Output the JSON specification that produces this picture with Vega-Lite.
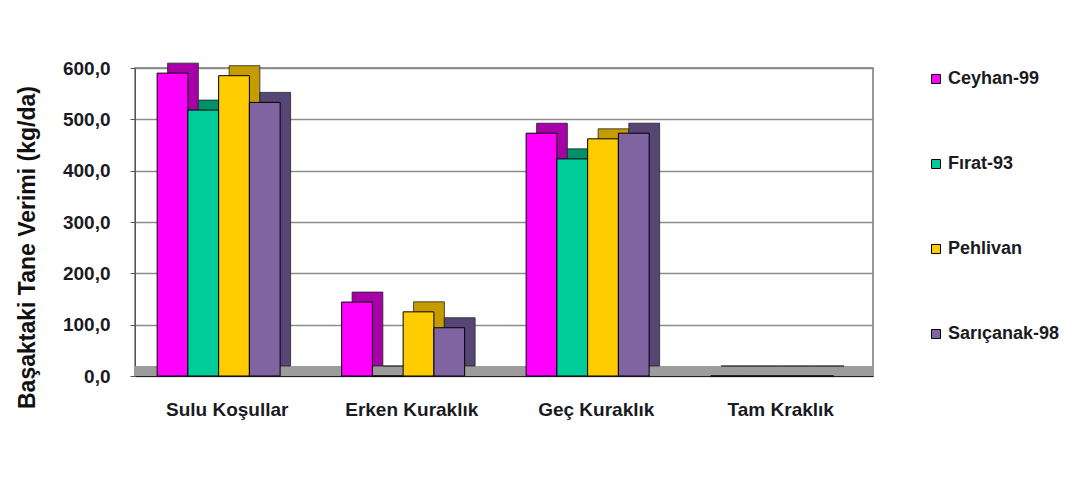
{
  "$schema": "https://vega.github.io/schema/vega-lite/v6.json",
  "width": 738,
  "height": 308,
  "autosize": {"type": "none"},
  "padding": {"left": 135, "top": 68, "right": 209, "bottom": 105},
  "background": "white",
  "config": {
    "font": "Liberation Sans",
    "view": {"stroke": "#777777", "strokeWidth": 1.5},
    "axisY": {
      "grid": true, "gridColor": "#8c8c8c", "gridWidth": 1.5,
      "domainColor": "#555555", "tickColor": "#555555", "tickSize": 5,
      "labelFont": "Liberation Sans", "labelFontSize": 19, "labelFontWeight": "bold", "labelColor": "#1a1a22",
      "labelPadding": 20,
      "titleFont": "Liberation Sans", "titleFontSize": 23, "titleFontWeight": "bold", "titleColor": "#111111",
      "titleAngle": -90, "titleX": -101, "titleY": 179, "titleAlign": "center", "titleBaseline": "alphabetic"
    },
    "axisX": {
      "grid": false, "ticks": false, "domainColor": "#222222", "domainWidth": 1.2,
      "labelFont": "Liberation Sans", "labelFontSize": 19, "labelFontWeight": "bold", "labelColor": "#1a1a22",
      "labelAngle": 0, "labelPadding": 24
    },
    "legend": {
      "orient": "none", "legendX": 792, "legendY": 2, "padding": 0,
      "symbolType": "square", "symbolSize": 81, "symbolStrokeColor": "#000000", "symbolStrokeWidth": 1,
      "labelFont": "Liberation Sans", "labelFontSize": 18, "labelFontWeight": "bold", "labelColor": "#1a1a22",
      "labelOffset": 3, "rowPadding": 67, "title": null
    }
  },
  "data": {
    "values": [
      {"kosul": "Sulu Koşullar", "cesit": "Ceyhan-99", "verim": 590},
      {"kosul": "Sulu Koşullar", "cesit": "Fırat-93", "verim": 518},
      {"kosul": "Sulu Koşullar", "cesit": "Pehlivan", "verim": 585},
      {"kosul": "Sulu Koşullar", "cesit": "Sarıçanak-98", "verim": 533},
      {"kosul": "Erken Kuraklık", "cesit": "Ceyhan-99", "verim": 144},
      {"kosul": "Erken Kuraklık", "cesit": "Fırat-93", "verim": 0},
      {"kosul": "Erken Kuraklık", "cesit": "Pehlivan", "verim": 125},
      {"kosul": "Erken Kuraklık", "cesit": "Sarıçanak-98", "verim": 94},
      {"kosul": "Geç Kuraklık", "cesit": "Ceyhan-99", "verim": 473},
      {"kosul": "Geç Kuraklık", "cesit": "Fırat-93", "verim": 423},
      {"kosul": "Geç Kuraklık", "cesit": "Pehlivan", "verim": 462},
      {"kosul": "Geç Kuraklık", "cesit": "Sarıçanak-98", "verim": 473},
      {"kosul": "Tam Kraklık", "cesit": "Ceyhan-99", "verim": 0},
      {"kosul": "Tam Kraklık", "cesit": "Fırat-93", "verim": 0},
      {"kosul": "Tam Kraklık", "cesit": "Pehlivan", "verim": 0},
      {"kosul": "Tam Kraklık", "cesit": "Sarıçanak-98", "verim": 0}
    ]
  },
  "layer": [
    {
      "mark": {"type": "rule", "color": "#9c9c9c", "strokeWidth": 9, "yOffset": -5},
      "encoding": {
        "y": {"datum": 0, "type": "quantitative", "scale": {"domain": [0, 600]},
              "axis": {"title": "Başaktaki Tane Verimi (kg/da)", "values": [0, 100, 200, 300, 400, 500, 600], "labelExpr": "replace(format(datum.value, '.1f'), '.', ',')"}}
      }
    },
    {
      "mark": {"type": "bar", "yOffset": -10, "stroke": "#222222", "strokeWidth": 0.8},
      "encoding": {
        "x": {"field": "kosul", "type": "nominal", "sort": null, "title": null, "scale": {"paddingInner": 0, "paddingOuter": 0}},
        "xOffset": {"field": "cesit", "type": "nominal", "sort": null, "scale": {"paddingInner": 0, "paddingOuter": 1.295, "align": 0.53}},
        "y": {"field": "verim", "type": "quantitative", "scale": {"domain": [0, 600]},
              "axis": {"title": "Başaktaki Tane Verimi (kg/da)", "values": [0, 100, 200, 300, 400, 500, 600], "labelExpr": "replace(format(datum.value, '.1f'), '.', ',')"}},
        "color": {"field": "cesit", "type": "nominal", "sort": null, "legend": null,
                  "scale": {"domain": ["Ceyhan-99", "Fırat-93", "Pehlivan", "Sarıçanak-98"], "range": ["#a800a8", "#00906c", "#c49c00", "#574675"]}}
      }
    },
    {
      "mark": {"type": "bar", "stroke": "#000000", "strokeWidth": 1},
      "encoding": {
        "x": {"field": "kosul", "type": "nominal", "sort": null, "title": null, "scale": {"paddingInner": 0, "paddingOuter": 0}},
        "xOffset": {"field": "cesit", "type": "nominal", "sort": null, "scale": {"paddingInner": 0, "paddingOuter": 1.295, "align": 0.36}},
        "y": {"field": "verim", "type": "quantitative", "scale": {"domain": [0, 600]},
              "axis": {"title": "Başaktaki Tane Verimi (kg/da)", "values": [0, 100, 200, 300, 400, 500, 600], "labelExpr": "replace(format(datum.value, '.1f'), '.', ',')"}},
        "color": {"field": "cesit", "type": "nominal", "sort": null,
                  "scale": {"domain": ["Ceyhan-99", "Fırat-93", "Pehlivan", "Sarıçanak-98"], "range": ["#ff00ff", "#00cc99", "#ffcc00", "#8064a2"]},
                  "legend": {"title": null}}
      }
    }
  ],
  "resolve": {"scale": {"color": "independent", "xOffset": "independent"}}
}
